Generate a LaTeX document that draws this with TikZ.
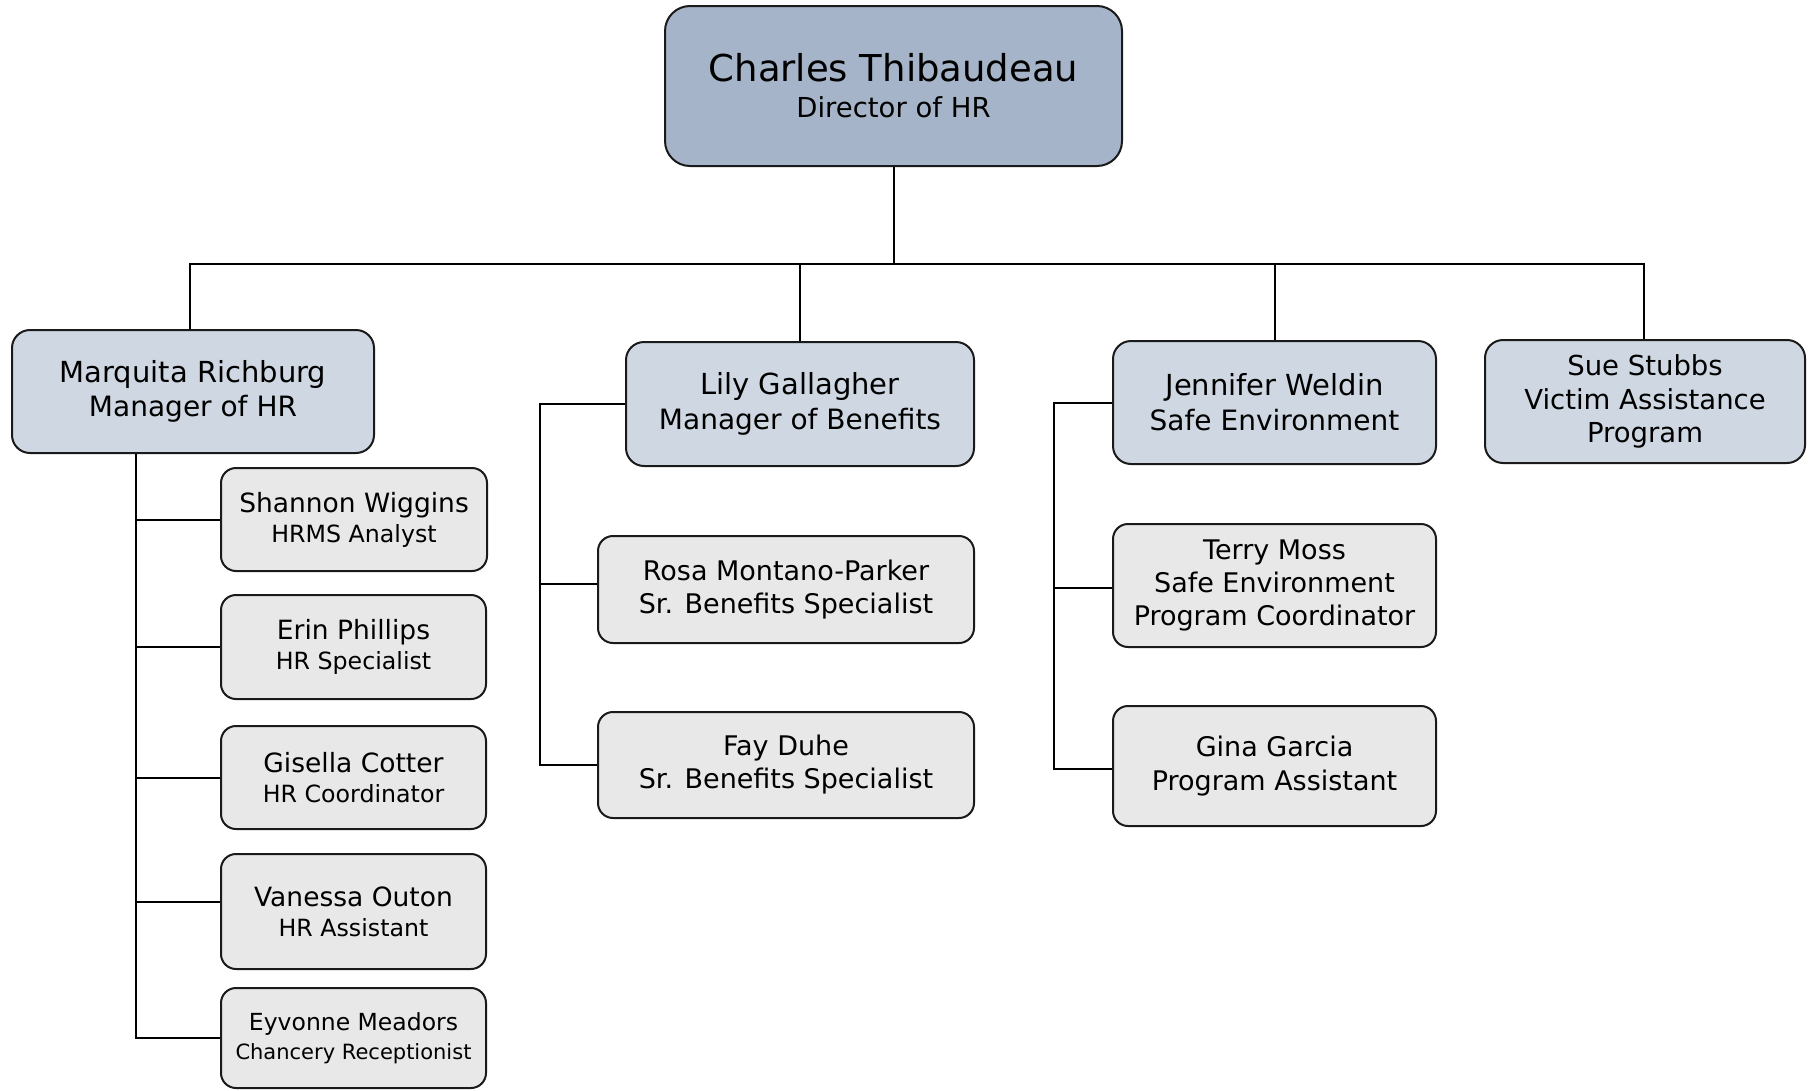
\documentclass[tikz,border=0pt]{standalone}
\usepackage{fontspec}
\setmainfont{DejaVu Sans}
\usetikzlibrary{calc}
\definecolor{topfill}{HTML}{A5B4C8}
\definecolor{mgrfill}{HTML}{CFD8E2}
\definecolor{stafffill}{HTML}{E8E8E8}
\definecolor{edgecol}{HTML}{1A1A1A}
\newcommand{\fsz}[2]{\fontsize{#1}{#2}\selectfont}
\begin{document}
\begin{tikzpicture}[x=1pt,y=-1pt,line width=2pt,
  box/.style={draw=edgecol, line width=2pt, inner sep=0pt, align=center, anchor=center, text=black},
  topbox/.style={box, fill=topfill, rounded corners=25pt},
  mgrbox/.style={box, fill=mgrfill, rounded corners=18pt},
  staffbox/.style={box, fill=stafffill, rounded corners=15pt},
  link/.style={draw=black, line width=2pt}]
\useasboundingbox (0,0) rectangle (1809,1090);

% top
\node[topbox, minimum width=457pt, minimum height=160pt, font=\fsz{37}{36}] (ct) at (893.5,86)
  {Charles Thibaudeau\\{\fsz{27.5}{36}Director of HR}};

% managers
\node[mgrbox, minimum width=362pt, minimum height=123pt, font=\fsz{29}{34}] (mr) at (193,391.5)
  {\raisebox{-3pt}{Marquita Richburg}\\{\fsz{28}{34}\raisebox{-3pt}{Manager of HR}}};
\node[mgrbox, minimum width=348pt, minimum height=124pt, font=\fsz{29}{35}] (lg) at (800,404)
  {Lily Gallagher\\{\fsz{28}{35}Manager of Benefits}};
\node[mgrbox, minimum width=323pt, minimum height=123pt, font=\fsz{29}{35}] (jw) at (1274.5,402.5)
  {Jennifer Weldin\\{\fsz{28}{35}Safe Environment}};
\node[mgrbox, minimum width=320pt, minimum height=123pt, font=\fsz{27.5}{33.5}] (ss) at (1645,401.5)
  {Sue Stubbs\\Victim Assistance\\Program};

% HR staff
\node[staffbox, minimum width=266pt, minimum height=103pt, font=\fsz{26.5}{30}] (sw) at (354,519.5)
  {Shannon Wiggins\\{\fsz{23.7}{30}HRMS Analyst}};
\node[staffbox, minimum width=265pt, minimum height=104pt, font=\fsz{26.5}{30}] (ep) at (353.5,647)
  {Erin Phillips\\{\fsz{23.7}{30}HR Specialist}};
\node[staffbox, minimum width=265pt, minimum height=103pt, font=\fsz{26.5}{30}] (gc) at (353.5,777.5)
  {Gisella Cotter\\{\fsz{23.7}{30}HR Coordinator}};
\node[staffbox, minimum width=265pt, minimum height=115pt, font=\fsz{26.5}{30}] (vo) at (353.5,911.5)
  {Vanessa Outon\\{\fsz{23.7}{30}HR Assistant}};
\node[staffbox, minimum width=265pt, minimum height=100pt, font=\fsz{23.5}{29}] (em) at (353.5,1038)
  {Eyvonne Meadors\\{\fsz{21}{29}Chancery Receptionist}};

% Benefits staff
\node[staffbox, minimum width=376pt, minimum height=107pt, font=\fsz{27}{33}] (rmp) at (786,589.5)
  {Rosa Montano-Parker\\Sr. Benefits Specialist};
\node[staffbox, minimum width=376pt, minimum height=106pt, font=\fsz{27}{33}] (fd) at (786,765)
  {Fay Duhe\\Sr. Benefits Specialist};

% Safe Environment staff
\node[staffbox, minimum width=323pt, minimum height=123pt, font=\fsz{27}{33}] (tm) at (1274.5,585.5)
  {Terry Moss\\Safe Environment\\Program Coordinator};
\node[staffbox, minimum width=323pt, minimum height=120pt, font=\fsz{27}{34}] (gg) at (1274.5,766)
  {Gina Garcia\\Program Assistant};

% bus
\coordinate (busL) at (190,264);
\coordinate (busR) at (1644,264);
\draw[link] (ct.south) -- (ct.south |- busL);
\draw[link] (busL |- mr.north) -- (busL) -- (busR) -- (busR |- ss.north);
\draw[link] (lg.north) -- (lg.north |- busL);
\draw[link] (jw.north) -- (jw.north |- busL);

% Marquita spine
\coordinate (mrx) at (136,0);
\coordinate (vob) at ($(vo.west)+(0,-9.5)$);
\draw[link] (mr.south -| mrx) -- (mrx |- em.west) -- (em.west);
\draw[link] (mrx |- sw.west) -- (sw.west);
\draw[link] (mrx |- ep.west) -- (ep.west);
\draw[link] (mrx |- gc.west) -- (gc.west);
\draw[link] (mrx |- vob) -- (vob);

% Lily spine
\coordinate (lgx) at (540,0);
\coordinate (rmpb) at ($(rmp.west)+(0,-5.5)$);
\draw[link] (lg.west) -- (lg.west -| lgx) -- (lgx |- fd.west) -- (fd.west);
\draw[link] (lgx |- rmpb) -- (rmpb);

% Jennifer spine
\coordinate (jwx) at (1054,0);
\coordinate (tmb) at ($(tm.west)+(0,2.5)$);
\coordinate (ggb) at ($(gg.west)+(0,3)$);
\draw[link] (jw.west) -- (jw.west -| jwx) -- (jwx |- ggb) -- (ggb);
\draw[link] (jwx |- tmb) -- (tmb);
\end{tikzpicture}
\end{document}
